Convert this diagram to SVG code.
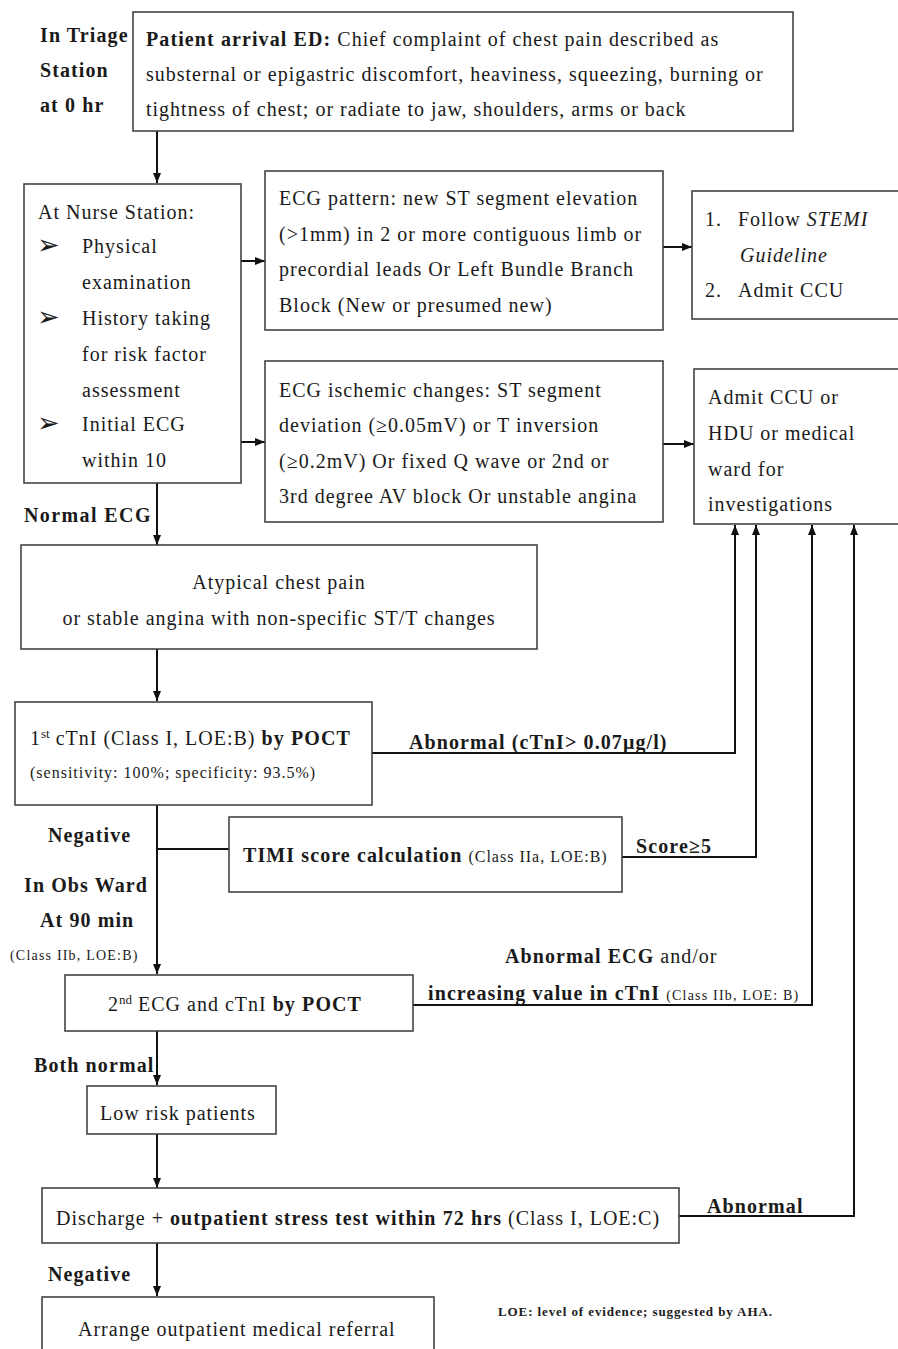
<svg xmlns="http://www.w3.org/2000/svg" width="898" height="1349" viewBox="0 0 898 1349">
<defs>
<marker id="ah" viewBox="0 0 10 8" refX="10" refY="4" markerWidth="10" markerHeight="8" orient="auto" markerUnits="userSpaceOnUse">
<path d="M0,0 L10,4 L0,8 z" fill="#111"/>
</marker>
<style>
text{font-family:"Liberation Serif","Times New Roman",serif;fill:#1a1a1a;font-size:20px;letter-spacing:1px}
.b{font-weight:bold;letter-spacing:1.1px}
.s{font-size:16px;letter-spacing:1px}
.xs{font-size:14px;letter-spacing:1.2px}
.sup{font-size:13px;letter-spacing:0}
.bul{font-family:"DejaVu Sans",sans-serif;font-size:27px;letter-spacing:0}
.box{fill:#fff;stroke:#444;stroke-width:1.6}
.ln{fill:none;stroke:#111;stroke-width:2}
.ar{fill:none;stroke:#111;stroke-width:2;marker-end:url(#ah)}
</style>
</defs>
<rect width="898" height="1349" fill="#fff"/>

<g id="labels">
<text class="b" x="40" y="42">In Triage</text>
<text class="b" x="40" y="77">Station</text>
<text class="b" x="40" y="112">at 0 hr</text>
<text class="b" x="24" y="522" style="letter-spacing:1.4px">Normal ECG</text>
<text class="b" x="48" y="842">Negative</text>
<text class="b" x="24" y="892">In Obs Ward</text>
<text class="b" x="40" y="927">At 90 min</text>
<text class="xs" x="10" y="960">(Class IIb, LOE:B)</text>
<text class="b" x="34" y="1072">Both normal</text>
<text class="b" x="48" y="1281">Negative</text>
<text class="b" x="409" y="749">Abnormal (cTnI&gt; 0.07μg/l)</text>
<text class="b" x="636" y="853">Score≥5</text>
<text x="505" y="963"><tspan class="b">Abnormal ECG</tspan> and/or</text>
<text x="428" y="1000"><tspan class="b">increasing value in cTnI</tspan> <tspan class="xs">(Class IIb, LOE: B)</tspan></text>
<text class="b" x="707" y="1213">Abnormal</text>
<text class="b" x="498" y="1316" style="font-size:13px;letter-spacing:0.9px">LOE: level of evidence; suggested by AHA.</text>
</g>

<g id="connectors">
<line class="ar" x1="157" y1="131" x2="157" y2="183"/>
<line class="ar" x1="241" y1="261" x2="265" y2="261"/>
<line class="ar" x1="241" y1="442" x2="265" y2="442"/>
<line class="ar" x1="663" y1="247" x2="692" y2="247"/>
<line class="ar" x1="663" y1="444" x2="694" y2="444"/>
<line class="ar" x1="157" y1="483" x2="157" y2="545"/>
<line class="ar" x1="157" y1="649" x2="157" y2="701"/>
<line class="ar" x1="157" y1="805" x2="157" y2="974"/>
<line class="ln" x1="157" y1="849" x2="229" y2="849"/>
<polyline class="ar" points="372,753 735,753 735,525"/>
<polyline class="ar" points="622,857 756,857 756,525"/>
<polyline class="ar" points="413,1005 812,1005 812,525"/>
<polyline class="ar" points="679,1216 854,1216 854,525"/>
<line class="ar" x1="157" y1="1031" x2="157" y2="1085"/>
<line class="ar" x1="157" y1="1134" x2="157" y2="1188"/>
<line class="ar" x1="157" y1="1243" x2="157" y2="1296"/>
</g>

<g id="n-arrival">
<rect class="box" x="133" y="12" width="660" height="119"/>
<text x="146" y="46"><tspan class="b">Patient arrival ED:</tspan> Chief complaint of chest pain described as</text>
<text x="146" y="81">substernal or epigastric discomfort, heaviness, squeezing, burning or</text>
<text x="146" y="116">tightness of chest; or radiate to jaw, shoulders, arms or back</text>
</g>

<g id="n-nurse">
<rect class="box" x="24" y="184" width="217" height="299"/>
<text x="38" y="219">At Nurse Station:</text>
<text class="bul" x="37" y="254">➢</text>
<text x="82" y="253">Physical</text>
<text x="82" y="289">examination</text>
<text class="bul" x="37" y="326">➢</text>
<text x="82" y="325">History taking</text>
<text x="82" y="361">for risk factor</text>
<text x="82" y="397">assessment</text>
<text class="bul" x="37" y="432">➢</text>
<text x="82" y="431">Initial ECG</text>
<text x="82" y="467">within 10</text>
</g>

<g id="n-ecg-st">
<rect class="box" x="265" y="171" width="398" height="159"/>
<text x="279" y="205">ECG pattern: new ST segment elevation</text>
<text x="279" y="241">(&gt;1mm) in 2 or more contiguous limb or</text>
<text x="279" y="276">precordial leads Or Left Bundle Branch</text>
<text x="279" y="312">Block (New or presumed new)</text>
</g>

<g id="n-ecg-isch">
<rect class="box" x="265" y="361" width="398" height="161"/>
<text x="279" y="397">ECG ischemic changes: ST segment</text>
<text x="279" y="432">deviation (≥0.05mV) or T inversion</text>
<text x="279" y="468">(≥0.2mV) Or fixed Q wave or 2nd or</text>
<text x="279" y="503">3rd degree AV block Or unstable angina</text>
</g>

<g id="n-stemi">
<rect class="box" x="692" y="191" width="210" height="128"/>
<text x="705" y="226">1.</text>
<text x="738" y="226">Follow <tspan font-style="italic">STEMI</tspan></text>
<text x="740" y="262" font-style="italic">Guideline</text>
<text x="705" y="297">2.</text>
<text x="738" y="297">Admit CCU</text>
</g>

<g id="n-admit">
<rect class="box" x="694" y="369" width="208" height="155"/>
<text x="708" y="404">Admit CCU or</text>
<text x="708" y="440">HDU or medical</text>
<text x="708" y="476">ward for</text>
<text x="708" y="511">investigations</text>
</g>

<g id="n-atypical">
<rect class="box" x="21" y="545" width="516" height="104"/>
<text x="279" y="589" text-anchor="middle">Atypical chest pain</text>
<text x="279" y="625" text-anchor="middle">or stable angina with non-specific ST/T changes</text>
</g>

<g id="n-ctni">
<rect class="box" x="15" y="702" width="357" height="103"/>
<text x="30" y="745">1<tspan class="sup" dy="-7">st</tspan><tspan dy="7"> cTnI (Class I, LOE:B) </tspan><tspan class="b">by POCT</tspan></text>
<text class="s" x="30" y="778">(sensitivity: 100%; specificity: 93.5%)</text>
</g>

<g id="n-timi">
<rect class="box" x="229" y="817" width="393" height="75"/>
<text x="243" y="862"><tspan class="b">TIMI score calculation</tspan> <tspan class="s">(Class IIa, LOE:B)</tspan></text>
</g>

<g id="n-ecg2">
<rect class="box" x="65" y="975" width="348" height="56"/>
<text x="108" y="1011">2<tspan class="sup" dy="-7">nd</tspan><tspan dy="7"> ECG and cTnI </tspan><tspan class="b">by POCT</tspan></text>
</g>

<g id="n-lowrisk">
<rect class="box" x="87" y="1086" width="189" height="48"/>
<text x="100" y="1120">Low risk patients</text>
</g>

<g id="n-discharge">
<rect class="box" x="42" y="1188" width="637" height="55"/>
<text x="56" y="1225">Discharge + <tspan class="b">outpatient stress test within 72 hrs</tspan> (Class I, LOE:C)</text>
</g>

<g id="n-referral">
<rect class="box" x="42" y="1297" width="392" height="60"/>
<text x="78" y="1336">Arrange outpatient medical referral</text>
</g>
</svg>
